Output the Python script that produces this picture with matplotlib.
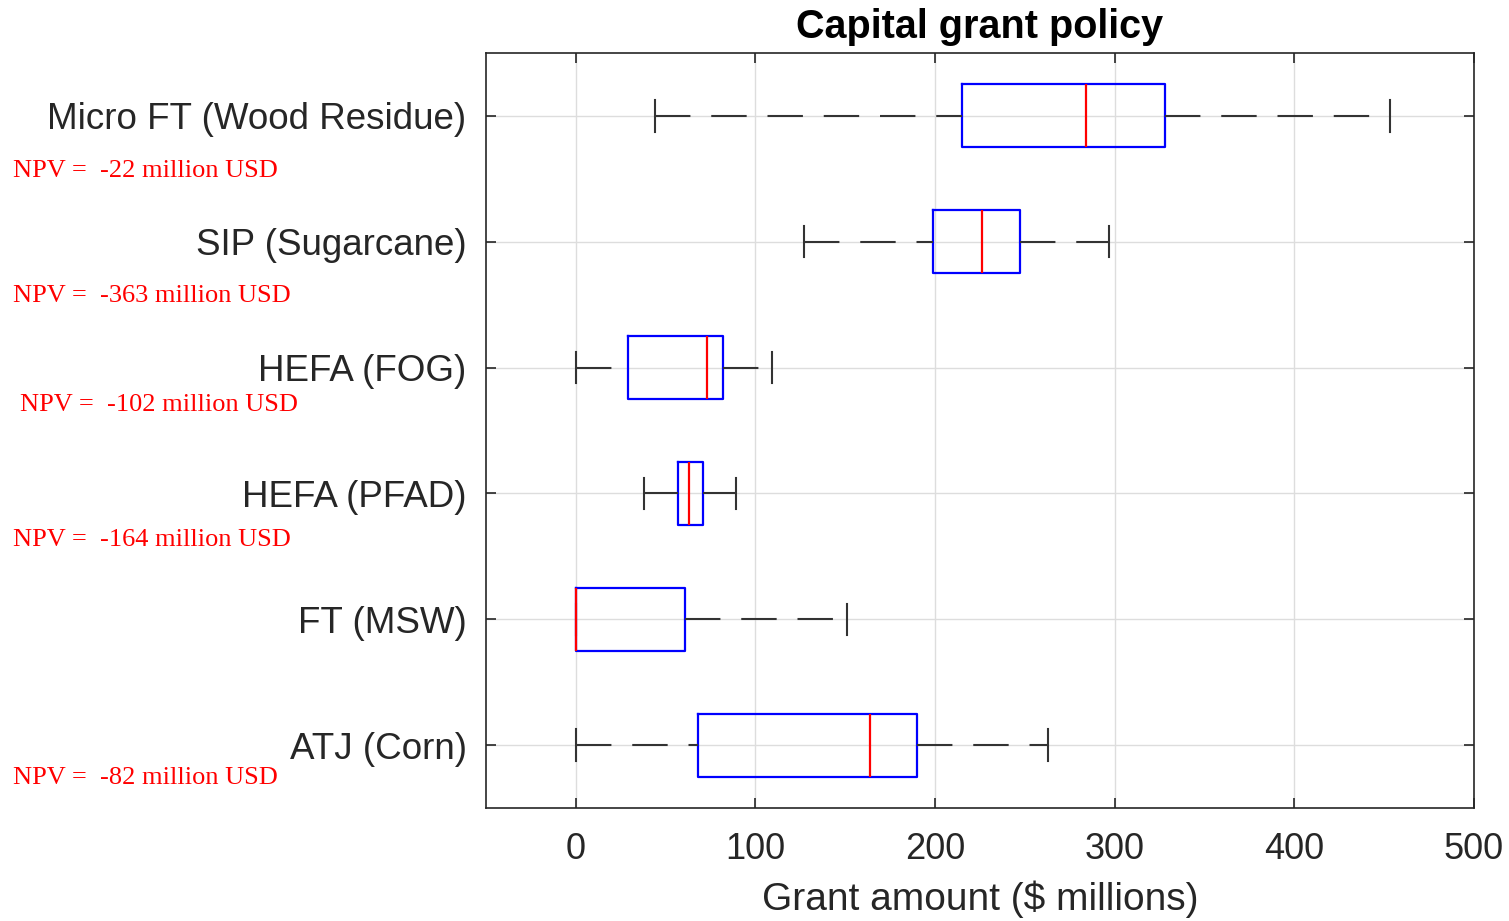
import matplotlib.pyplot as plt

# Pathways (top to bottom) and box statistics ($ millions)
pathways = ['Micro FT (Wood Residue)', 'SIP (Sugarcane)', 'HEFA (FOG)',
            'HEFA (PFAD)', 'FT (MSW)', 'ATJ (Corn)']
whisker_low = [44, 127, 0, 38, 0, 0]
q1 = [215, 199, 29, 57, 0, 68]
median = [284, 226, 73, 63, 0, 164]
q3 = [328, 247, 82, 71, 61, 190]
whisker_high = [453, 297, 109, 89, 151, 263]

npv_labels = ['NPV =  -22 million USD', 'NPV =  -363 million USD',
              'NPV =  -102 million USD', 'NPV =  -164 million USD',
              'NPV =  -82 million USD']
npv_xy = [(13, 171), (13, 296), (20, 405), (13, 540), (13, 778)]  # pixel positions

plt.rcParams['font.family'] = ['Liberation Sans', 'DejaVu Sans']
dark = '#262626'

fig = plt.figure(figsize=(15.09, 9.21), dpi=100)
ax = fig.add_axes([486 / 1509, 1 - 808 / 921, (1474 - 486) / 1509, (808 - 53) / 921])

stats = []
for i, name in enumerate(pathways):
    stats.append({'label': name, 'whislo': whisker_low[i], 'q1': q1[i],
                  'med': median[i], 'q3': q3[i], 'whishi': whisker_high[i],
                  'fliers': []})

positions = list(range(1, len(pathways) + 1))
parts = ax.bxp(stats, positions=positions, vert=False, widths=0.5, capwidths=0.25,
               showfliers=False,
               boxprops=dict(color='#0000ff', linewidth=1.6),
               medianprops=dict(color='#ff0000', linewidth=1.6),
               whiskerprops=dict(color='#333333', linewidth=1.5, linestyle=(0, (17, 10))),
               capprops=dict(color='#333333', linewidth=1.5))

# lower whiskers: start the dash pattern from the cap, as in the original
for line in parts['whiskers'][0::2]:
    x, y = line.get_data()
    line.set_data(x[::-1], y[::-1])

ax.set_xlim(-50, 500)
ax.set_ylim(6.5, 0.5)
ax.set_xticks([0, 100, 200, 300, 400, 500])
ax.set_yticks(positions)
ax.set_yticklabels(pathways)
ax.grid(True, color='#dddddd', linewidth=1)
ax.set_axisbelow(True)

ax.tick_params(axis='both', direction='in', length=7, width=1.2, colors=dark,
               top=True, right=True)
ax.tick_params(axis='y', labelsize=26.5, pad=14)
ax.tick_params(axis='x', labelsize=26, pad=17)
for s in ax.spines.values():
    s.set_color(dark)
    s.set_linewidth(1.2)

ax.set_xlabel('Grant amount ($ millions)', fontsize=28, color=dark, labelpad=10)
ax.set_title('Capital grant policy', fontsize=28.5, fontweight='bold', pad=11)

for label, (px, py) in zip(npv_labels, npv_xy):
    fig.text(px / 1509, 1 - py / 921, label, color='#ff0000', fontsize=19,
             family='Liberation Serif', ha='left', va='center')

fig.savefig('out.png', dpi=100)
